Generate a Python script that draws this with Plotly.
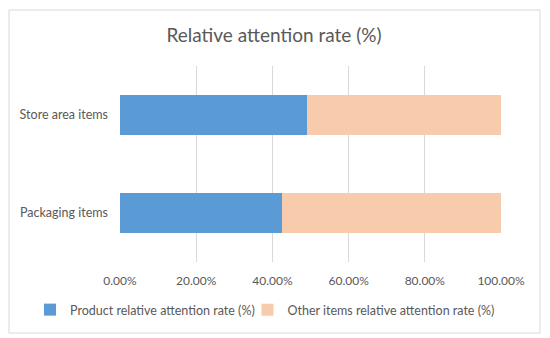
import plotly.graph_objects as go

categories = ["Packaging items", "Store area items"]
product_rate = [0.424, 0.492]
other_rate = [0.576, 0.508]
series_names = ["Product relative attention rate (%)", "Other items relative attention rate (%)"]
tick_vals = [0, 0.2, 0.4, 0.6, 0.8, 1.0]
tick_text = ["0.00%", "20.00%", "40.00%", "60.00%", "80.00%", "100.00%"]

W, H = 550, 338
L, R, T, B = 120, 49, 66, 76
pw, ph = W - L - R, H - T - B

fig = go.Figure()
fig.add_trace(go.Bar(y=categories, x=product_rate, orientation="h", name=series_names[0],
                     marker=dict(color="#5B9BD5", line=dict(width=0)), legend="legend",
                     showlegend=True))
fig.add_trace(go.Bar(y=categories, x=other_rate, orientation="h", name=series_names[1],
                     marker=dict(color="#F8CBAD", line=dict(width=0)), legend="legend2",
                     showlegend=True))

def px(x):
    return (x - L) / pw

def py(y):
    return (H - B - y) / ph

leg_common = dict(orientation="h", xref="paper", xanchor="left", yref="paper",
                  y=py(310), yanchor="middle", font=dict(size=12.5, color="#595959"),
                  itemwidth=30, bgcolor="rgba(0,0,0,0)", visible=True)

fig.update_layout(
    width=W, height=H,
    showlegend=True,
    margin=dict(l=L, r=R, t=T, b=B, autoexpand=False),
    barmode="stack",
    bargap=0.6,
    paper_bgcolor="white", plot_bgcolor="white",
    font=dict(family="Lato, Open Sans, sans-serif", color="#595959", size=12),
    title=dict(text="Relative attention rate (%)", x=274 / W, xanchor="center",
               y=1 - 35 / H, yanchor="middle", font=dict(size=19, color="#595959")),
    xaxis=dict(range=[0, 1], tickvals=tick_vals, ticktext=tick_text, showgrid=True,
               gridcolor="#D9D9D9", gridwidth=1, zeroline=False, showline=False,
               ticks="", ticklabelstandoff=10, tickfont=dict(size=12, color="#595959")),
    yaxis=dict(showgrid=False, zeroline=False, showline=False, ticks="",
               ticklabelstandoff=11, tickfont=dict(size=12.5, color="#595959")),
    legend=dict(x=px(30), **leg_common),
    legend2=dict(x=px(247.5), **leg_common),
    shapes=[dict(type="rect", xref="paper", yref="paper",
                 x0=px(9), x1=px(540), y0=py(333), y1=py(10),
                 line=dict(color="#D9D9D9", width=1), fillcolor="rgba(0,0,0,0)", layer="below")],
)

fig.write_html("out.html", config={"displayModeBar": False},
               post_script="document.body.style.margin='0';")
